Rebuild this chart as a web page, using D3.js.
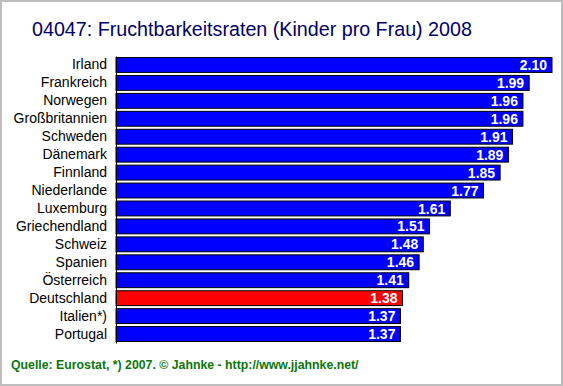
<!DOCTYPE html>
<html>
<head>
<meta charset="utf-8">
<script src="https://cdn.jsdelivr.net/npm/d3@7"></script>
<style>
  body { margin: 0; background: #fff; }
  svg { display: block; font-family: "Liberation Sans", Arial, sans-serif; }
</style>
</head>
<body>
<div id="chart"></div>
<script>
// Countries, top to bottom
const countries = [
    "Irland", "Frankreich", "Norwegen", "Großbritannien", "Schweden", "Dänemark",
    "Finnland", "Niederlande", "Luxemburg", "Griechendland", "Schweiz", "Spanien",
    "Österreich", "Deutschland", "Italien*)", "Portugal"
];
// Children per woman
const rates = [2.10, 1.99, 1.96, 1.96, 1.91, 1.89, 1.85, 1.77, 1.61, 1.51, 1.48, 1.46, 1.41, 1.38, 1.37, 1.37];
const highlight = "Deutschland";

const width = 563, height = 386;

const svg = d3.select("#chart").append("svg")
    .attr("width", width)
    .attr("height", height);

// background + grey frame
svg.append("rect")
    .attr("x", 1).attr("y", 1)
    .attr("width", width - 2).attr("height", height - 2)
    .attr("fill", "#fff")
    .attr("stroke", "#bdbdbd")
    .attr("stroke-width", 2);

// title
svg.append("text")
    .attr("x", 32)
    .attr("y", 36)
    .attr("fill", "#000066")
    .style("font-size", "19.7px")
    .text("04047: Fruchtbarkeitsraten (Kinder pro Frau) 2008");

const data = countries.map((c, i) => ({ country: c, value: rates[i] }));

const x = d3.scaleLinear()
    .domain([0, 2.10])
    .range([116, 552]);

const y = d3.scaleBand()
    .domain(countries)
    .range([56, 343])
    .paddingInner(0.17)
    .paddingOuter(0.085);

// bars
svg.append("g")
    .selectAll("rect")
    .data(data)
    .join("rect")
    .attr("x", x(0))
    .attr("y", d => y(d.country))
    .attr("width", d => x(d.value) - x(0))
    .attr("height", y.bandwidth())
    .attr("fill", d => d.country === highlight ? "#ff0000" : "#0000ff")
    .attr("stroke", "#000")
    .attr("stroke-width", 1);

// value labels inside the bars
svg.append("g")
    .selectAll("text")
    .data(data)
    .join("text")
    .attr("x", d => x(d.value) - 5)
    .attr("y", d => y(d.country) + y.bandwidth() / 2)
    .attr("dy", "0.36em")
    .attr("text-anchor", "end")
    .attr("fill", "#fff")
    .style("font-size", "14px")
    .style("font-weight", "bold")
    .text(d => d.value.toFixed(2));

// category axis
const axis = svg.append("g")
    .attr("transform", `translate(${x(0)},0)`)
    .call(d3.axisLeft(y).tickSize(0).tickPadding(9));
axis.select(".domain").attr("stroke", "#000");
axis.selectAll("text")
    .style("font-family", "'Liberation Sans', Arial, sans-serif")
    .style("font-size", "14px")
    .attr("fill", "#000");

// source line
svg.append("text")
    .attr("x", 11)
    .attr("y", 369)
    .attr("fill", "#0b760b")
    .style("font-size", "12.3px")
    .style("font-weight", "bold")
    .text("Quelle: Eurostat, *) 2007. © Jahnke - http://www.jjahnke.net/");
</script>
</body>
</html>
